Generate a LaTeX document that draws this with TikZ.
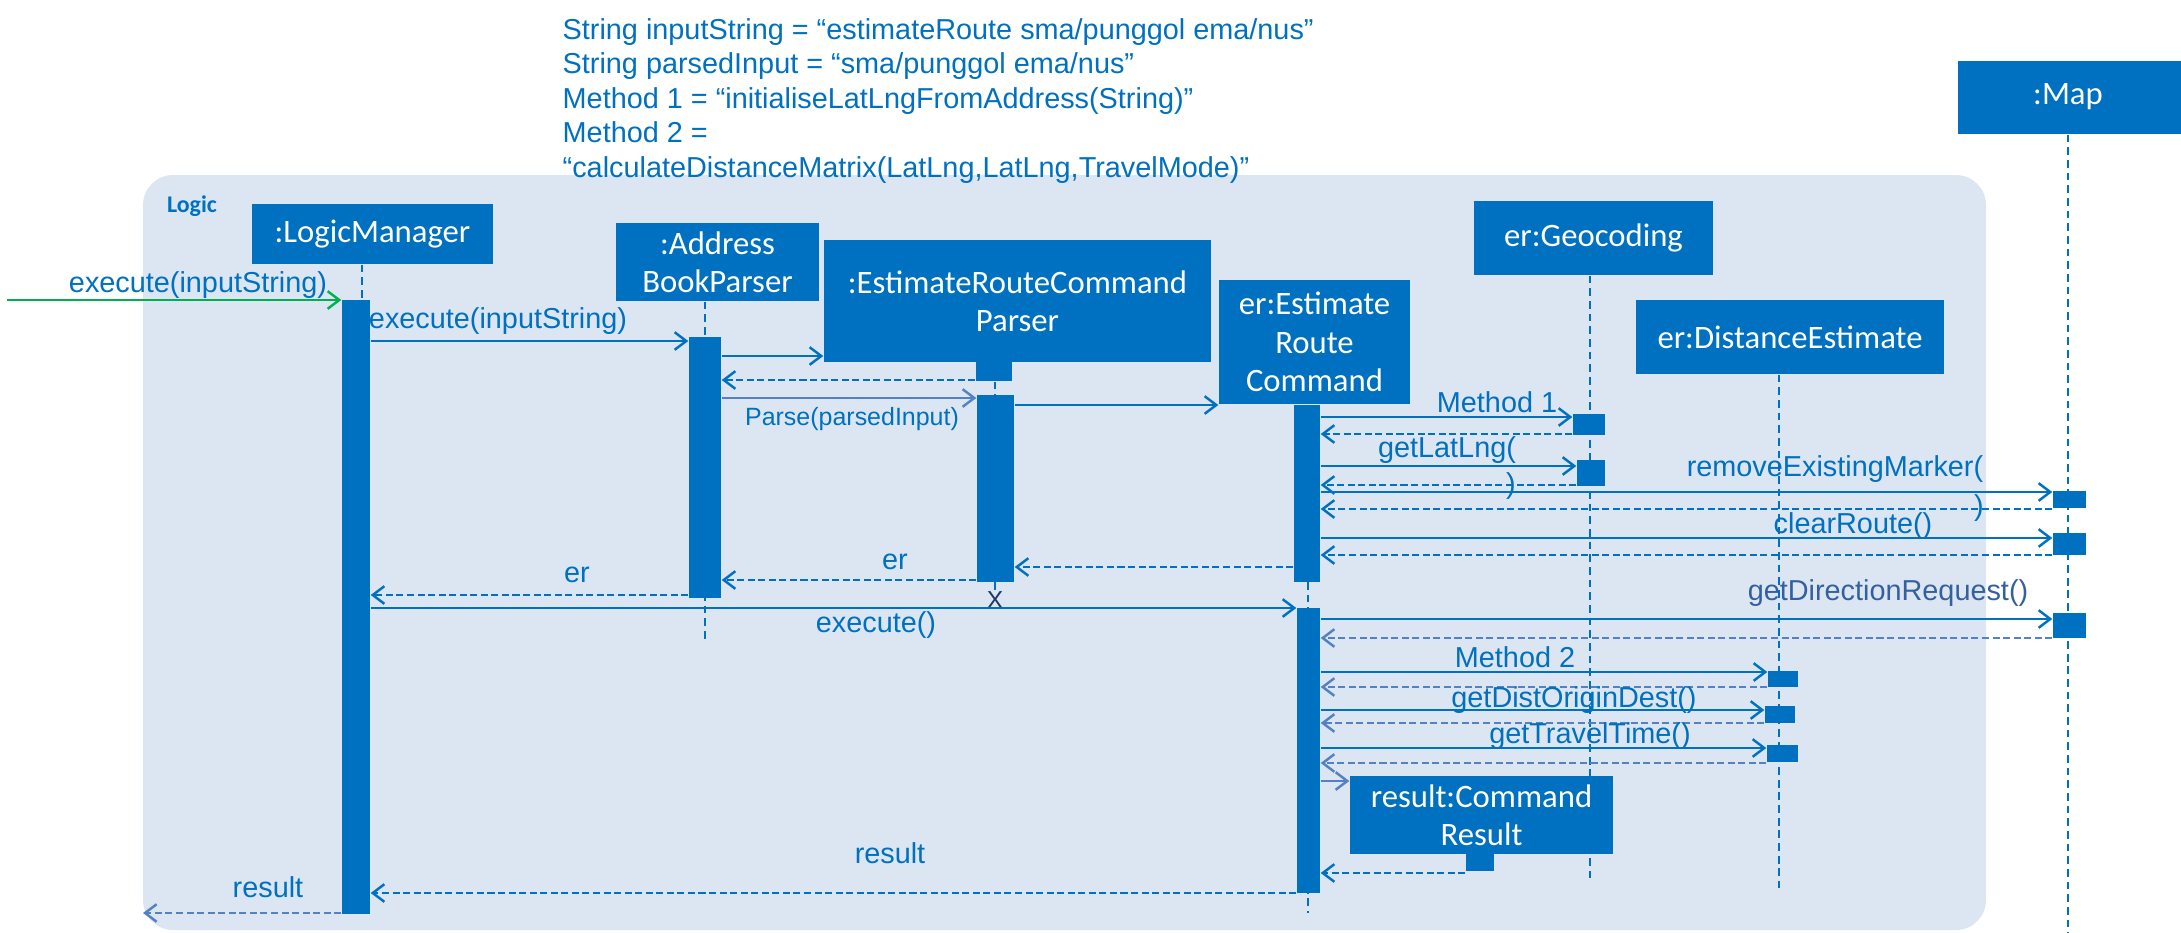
\documentclass[tikz,border=0pt]{standalone}
\usepackage{fontspec}
\setmainfont{Liberation Sans}
\newfontfamily\calibri{Carlito}
\usetikzlibrary{arrows.meta,fit}
\definecolor{boxblue}{HTML}{0070C0}
\definecolor{frameblue}{HTML}{DCE6F2}
\definecolor{greyblue}{HTML}{5282C4}
\definecolor{darklbl}{HTML}{35609F}
\definecolor{arrowgreen}{HTML}{00B050}
\definecolor{xnavy}{HTML}{1F3864}
\begin{document}
\begin{tikzpicture}[x=0.01cm,y=-0.01cm,
  obj/.style={fill=boxblue,inner sep=0},
  objtxt/.style={text=white,inner sep=0,align=center,font=\calibri\fontsize{9.3}{10.9}\selectfont},
  act/.style={fill=boxblue,inner sep=0},
  lbl/.style={text=boxblue,inner sep=0,font=\fontsize{8.2}{9.6}\selectfont},
  life/.style={draw=boxblue,line width=0.55pt,dash pattern=on 2.2pt off 1.4pt},
  msg/.style={draw=boxblue,line width=0.65pt,-{Straight Barb[length=3.3pt,width=5pt,line width=0.7pt]}},
  msgg/.style={msg,draw=greyblue},
  ret/.style={msg,dash pattern=on 2pt off 1pt},
  retg/.style={ret,draw=greyblue}]
\useasboundingbox (0,0) rectangle (2181,933);
\clip (0,0) rectangle (2181,933);

% frame
\node[fill=frameblue,rounded corners=0.3cm,inner sep=0,fit={(143,175) (1986,930)}] (logic) {};
\node[text=boxblue,inner sep=0,font=\calibri\bfseries\fontsize{6.8}{7.5}\selectfont] (logiclbl) at (192,206) {Logic};

% top notes
\node[anchor=base west,align=left,text=boxblue,inner sep=0,font=\fontsize{8.2}{9.8}\selectfont] (notes) at (562,177)
 {String inputString = “estimateRoute sma/punggol ema/nus”\\
  String parsedInput = “sma/punggol ema/nus”\\
  Method 1 = “initialiseLatLngFromAddress(String)”\\
  Method 2 =\\
  “calculateDistanceMatrix(LatLng,LatLng,TravelMode)”};

% objects
\node[obj,fit={(252,204) (493,264)}] (lm) {};
\node[objtxt] (lmt) at (lm.center) {:LogicManager};
\node[obj,fit={(616,223) (819,301)}] (abp) {};
\node[objtxt] (abpt) at (abp.center) {:Address\\BookParser};
\node[obj,fit={(824,240) (1211,362)}] (ercp) {};
\node[objtxt] (ercpt) at (ercp.center) {:EstimateRouteCommand\\Parser};
\node[obj,fit={(1219,280) (1410,404)}] (erc) {};
\node[objtxt] (erct) at (erc.center) {er:Estimate\\Route\\Command};
\node[obj,fit={(1474,201) (1713,275)}] (geo) {};
\node[objtxt] (geot) at (geo.center) {er:Geocoding};
\node[obj,fit={(1636,300) (1944,374)}] (dist) {};
\node[objtxt] (distt) at (dist.center) {er:DistanceEstimate};
\node[obj,fit={(1958,61) (2190,134)}] (map) {};
\node[objtxt] (mapt) at (2068,97) {:Map};

% small activation that a lifeline starts from
\node[act,fit={(976,362) (1012,381)}] (ercpact) {};

% lifelines
\draw[life] (lm.south -| 362,0) -- (362,300);
\draw[life] (abp.south -| 705,0) -- (705,643);
\draw[life] (ercpact.south -| 995,0) -- (995,396);
\draw[life] (995,582) -- (995,590);
\draw[life] (erc.south -| 1308,0) -- (1308,913);
\draw[life] (geo.south -| 1590,0) -- (1590,882);
\draw[life] (dist.south -| 1779,0) -- (1779,888);
\draw[life] (map.south -| 2068,0) -- (2068,933);

\node[act,fit={(342,300) (370,914)}] (lmbar) {};
\node[act,fit={(689,337) (721,598)}] (abpbar) {};
\node[act,fit={(977,395) (1014,582)}] (ercpbar) {};
\node[act,fit={(1294,405) (1320,582)}] (ercbar1) {};
\node[act,fit={(1297,608) (1320,893)}] (ercbar2) {};
\node[act,fit={(1573,414) (1605,435)}] (geo1) {};
\node[act,fit={(1577,460) (1605,486)}] (geo2) {};
\node[act,fit={(2053,491) (2086,508)}] (map1) {};
\node[act,fit={(2053,533) (2086,555)}] (map2) {};
\node[act,fit={(2053,613) (2086,638)}] (map3) {};
\node[act,fit={(1768,671) (1798,687)}] (dist1) {};
\node[act,fit={(1765,706) (1795,723)}] (dist2) {};
\node[act,fit={(1767,745) (1798,762)}] (dist3) {};
\node[obj,fit={(1350,776) (1613,854)}] (cr) {};
\node[objtxt] (crt) at (cr.center) {result:Command\\Result};
\node[act,fit={(1466,854) (1494,871)}] (cract) {};

% messages
\coordinate (start) at (7,300);
\draw[msg,draw=arrowgreen] (start) -- (lmbar.west |- start);
\node[lbl] (l1) at (198,285) {execute(inputString)};

\draw[msg] (lmbar.east |- 0,341) -- (abpbar.west |- 0,341);
\node[lbl] (l2) at (498,321) {execute(inputString)};

\draw[msg] (abpbar.east |- 0,356) -- (ercp.west |- 0,356);
\draw[ret] (ercpact.west |- 0,380) -- (abpbar.east |- 0,380);
\draw[msgg] (abpbar.east |- 0,398) -- (ercpbar.west |- 0,398);
\node[lbl,font=\fontsize{7.1}{8}\selectfont] (l3) at (852,419) {Parse(parsedInput)};
\draw[msg] (ercpbar.east |- 0,405) -- (erc.west |- 0,405);

\draw[msg] (ercbar1.east |- 0,417) -- (geo1.west |- 0,417);
\node[lbl] (l4) at (1497,402) {Method 1};
\draw[ret] (geo1.west |- 0,434) -- (ercbar1.east |- 0,434);

\draw[msg] (ercbar1.east |- 0,466) -- (geo2.west |- 0,466);
\node[lbl] (l5) at (1447,450) {getLatLng(};
\node[lbl] (l5b) at (1511,486) {)};
\draw[ret] (geo2.west |- 0,485) -- (ercbar1.east |- 0,485);

\draw[msg] (ercbar1.east |- 0,492) -- (map1.west |- 0,492);
\node[lbl] (l6) at (1835,469) {removeExistingMarker(};
\node[lbl] (l6b) at (1979,508) {)};
\draw[ret] (map1.west |- 0,509) -- (ercbar1.east |- 0,509);

\draw[msg] (ercbar1.east |- 0,538) -- (map2.west |- 0,538);
\node[lbl] (l7) at (1853,526) {clearRoute()};
\draw[ret] (map2.west |- 0,555) -- (ercbar1.east |- 0,555);

\draw[ret] (ercbar1.west |- 0,567) -- (ercpbar.east |- 0,567);
\draw[ret] (ercpbar.west |- 0,580) -- (abpbar.east |- 0,580);
\node[lbl] (l8) at (895,562) {er};
\draw[ret] (abpbar.west |- 0,595) -- (lmbar.east |- 0,595);
\node[lbl] (l9) at (577,575) {er};
\node[text=xnavy,inner sep=0,font=\fontsize{7}{8}\selectfont] (xmark) at (995,600) {X};

\draw[msg] (lmbar.east |- 0,608) -- (ercbar2.west |- 0,608);
\node[lbl] (l10) at (876,625) {execute()};

\draw[msg] (ercbar2.east |- 0,619) -- (map3.west |- 0,619);
\node[lbl,text=darklbl] (l11) at (1888,593) {getDirectionRequest()};
\draw[retg] (map3.west |- 0,638) -- (ercbar2.east |- 0,638);

\draw[msg] (ercbar2.east |- 0,672) -- (dist1.west |- 0,672);
\node[lbl] (l12) at (1515,657) {Method 2};
\draw[retg] (dist1.west |- 0,687) -- (ercbar2.east |- 0,687);

\draw[msg] (ercbar2.east |- 0,710) -- (dist2.west |- 0,710);
\node[lbl] (l13) at (1574,700) {getDistOriginDest()};
\draw[retg] (dist2.west |- 0,723) -- (ercbar2.east |- 0,723);

\draw[msg] (ercbar2.east |- 0,748) -- (dist3.west |- 0,748);
\node[lbl] (l14) at (1590,736) {getTravelTime()};
\draw[retg] (dist3.west |- 0,763) -- (ercbar2.east |- 0,763);

\draw[msgg] (ercbar2.east |- 0,781) -- (cr.west |- 0,781);
\draw[ret] (cract.west |- 0,873) -- (ercbar2.east |- 0,873);

\draw[ret] (ercbar2.west |- 0,893) -- (lmbar.east |- 0,893);
\node[lbl] (l15) at (890,853) {result};

\coordinate (endres) at (143,913);
\draw[retg] (lmbar.west |- endres) -- (endres);
\node[lbl] (l16) at (268,887) {result};
\end{tikzpicture}
\end{document}
